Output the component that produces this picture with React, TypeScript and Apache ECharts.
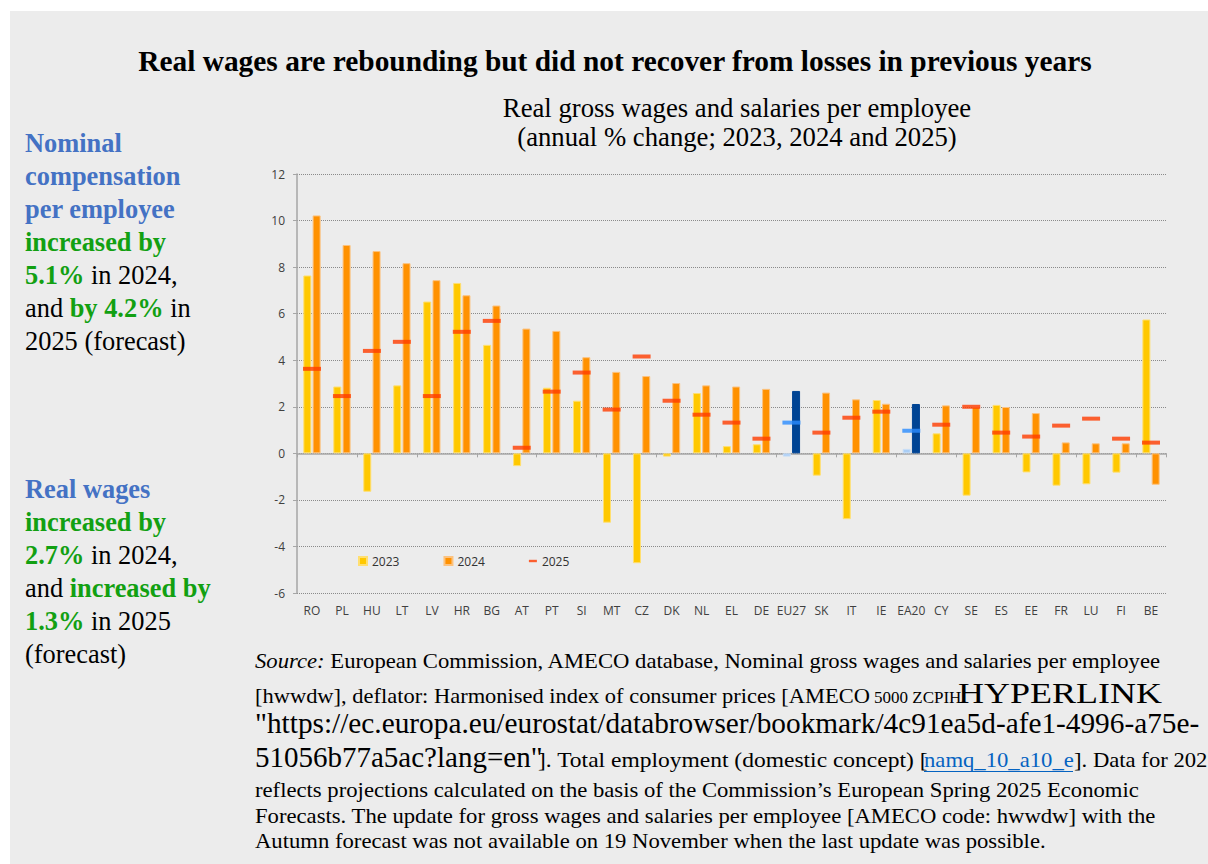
import React, { useEffect, useRef } from 'react';
import * as echarts from 'echarts';

const categories = ['RO', 'PL', 'HU', 'LT', 'LV', 'HR', 'BG', 'AT', 'PT', 'SI', 'MT', 'CZ', 'DK', 'NL', 'EL', 'DE', 'EU27', 'SK', 'IT', 'IE', 'EA20', 'CY', 'SE', 'ES', 'EE', 'FR', 'LU', 'FI', 'BE'];
const wages2023 = [7.64, 2.87, -1.65, 2.92, 6.52, 7.32, 4.66, -0.55, 2.82, 2.26, -2.98, -4.72, -0.14, 2.59, 0.31, 0.39, -0.14, -0.96, -2.83, 2.29, 0.19, 0.86, -1.82, 2.08, -0.82, -1.39, -1.33, -0.83, 5.75];
const wages2024 = [10.22, 8.95, 8.69, 8.17, 7.44, 6.79, 6.35, 5.36, 5.26, 4.13, 3.5, 3.32, 3.02, 2.92, 2.87, 2.77, 2.68, 2.61, 2.32, 2.13, 2.12, 2.06, 1.99, 1.99, 1.73, 0.47, 0.43, 0.43, -1.35];
const wages2025 = [3.63, 2.46, 4.4, 4.79, 2.46, 5.22, 5.69, 0.24, 2.65, 3.47, 1.88, 4.16, 2.26, 1.66, 1.32, 0.63, 1.32, 0.89, 1.53, 1.79, 0.97, 1.23, 2.0, 0.89, 0.72, 1.19, 1.49, 0.63, 0.46];
const aggregates = ['EU27', 'EA20'];
const seriesNames = ['2023', '2024', '2025'];
const yMin = -6;
const yMax = 12;
const yInterval = 2;

const titleText = 'Real wages are rebounding but did not recover from losses in previous years';
const subtitleLines = ['Real gross wages and salaries per employee', '(annual % change; 2023, 2024 and 2025)'];

const leftBlock1 = [
  '{b|Nominal}',
  '{b|compensation}',
  '{b|per employee}',
  '{g|increased by}',
  '{g|5.1%}{k| in 2024,}',
  '{k|and }{g|by 4.2%}{k| in}',
  '{k|2025 (forecast)}',
];
const leftBlock2 = [
  '{b|Real wages}',
  '{g|increased by}',
  '{g|2.7%}{k| in 2024,}',
  '{k|and }{g|increased by}',
  '{g|1.3%}{k| in 2025}',
  '{k|(forecast)}',
];

const C = {
  y2023: '#ffc800',
  y2024: '#ff9100',
  y2025: '#ff3c00',
  agg2023: '#a9cdf5',
  agg2024: '#004494',
  agg2025: '#2a8cff',
  blue: '#4472c4',
  green: '#12a012',
  link: '#0563c1',
};

const serif = '"Liberation Serif", "Times New Roman", serif';
const sans = '"Open Sans", "Noto Sans", sans-serif';

function App() {
  const ref = useRef<HTMLDivElement>(null);

  useEffect(() => {
    if (!ref.current) return;
    const chart = echarts.init(ref.current, undefined, { renderer: 'svg' });

    const isAgg = (i: number) => aggregates.includes(categories[i]);

    const d2023 = wages2023.map((v, i) => ({
      value: v,
      itemStyle: isAgg(i) ? { color: C.agg2023, borderColor: '#c8def7' } : undefined,
    }));
    const d2024 = wages2024.map((v, i) => ({
      value: v,
      itemStyle: isAgg(i) ? { color: C.agg2024, borderColor: C.agg2024 } : undefined,
    }));
    const d2025 = wages2025.map((v, i) => ({
      value: v,
      itemStyle: isAgg(i) ? { color: C.agg2025 } : undefined,
    }));

    const richLeft = {
      b: { font: `bold 26.4px ${serif}`, fill: C.blue },
      g: { font: `bold 26.4px ${serif}`, fill: C.green },
      k: { font: `26.4px ${serif}`, fill: '#000' },
    };

    const graphics: any[] = [
      { type: 'rect', z: -100, shape: { x: 10, y: 11, width: 1198, height: 853 }, style: { fill: '#ececec' } },
      {
        type: 'text', x: 615, y: 61,
        style: { text: titleText, font: `bold 29.4px ${serif}`, fill: '#000', align: 'center', verticalAlign: 'middle' },
      },
      {
        type: 'text', x: 737, y: 108,
        style: { text: subtitleLines[0], font: `26.7px ${serif}`, fill: '#000', align: 'center', verticalAlign: 'middle' },
      },
      {
        type: 'text', x: 737, y: 137,
        style: { text: subtitleLines[1], font: `26.7px ${serif}`, fill: '#000', align: 'center', verticalAlign: 'middle' },
      },
    ];
    leftBlock1.forEach((t, i) => {
      graphics.push({ type: 'text', x: 25, y: 143 + i * 33, style: { text: t, rich: richLeft, align: 'left', verticalAlign: 'middle' } });
    });
    leftBlock2.forEach((t, i) => {
      graphics.push({ type: 'text', x: 25, y: 489 + i * 33, style: { text: t, rich: richLeft, align: 'left', verticalAlign: 'middle' } });
    });

    const small = `21px ${serif}`;
    const big = `29.3px ${serif}`;
    const sx = 1.08;
    const src = (x: number, y: number, text: string, font: string, scaleX = 1, fill = '#000') => ({
      type: 'text', x, y, scaleX, style: { text, font, fill, align: 'left', verticalAlign: 'middle' },
    });
    graphics.push(
      {
        type: 'text', x: 255, y: 661, scaleX: sx,
        style: {
          text: '{i|Source:}{n| European Commission, AMECO database, Nominal gross wages and salaries per employee}',
          rich: { i: { font: `italic 21px ${serif}`, fill: '#000' }, n: { font: small, fill: '#000' } },
          verticalAlign: 'middle',
        },
      },
      src(255, 696, '[hwwdw], deflator: Harmonised index of consumer prices [AMECO', small, 1.07),
      src(874, 697, '5000 ZCPIH', `17px ${serif}`),
      src(958, 693, 'HYPERLINK', `30px ${serif}`, 1.2),
      src(255, 723, '"https://ec.europa.eu/eurostat/databrowser/bookmark/4c91ea5d-afe1-4996-a75e-', big),
      src(255, 757, '51056b77a5ac?lang=en"', `29px ${serif}`),
      src(538, 760, ']. Total employment (domestic concept) [', small, 1.12),
      src(924, 760, 'namq_10_a10_e', small, sx, C.link),
      { type: 'line', shape: { x1: 924, y1: 771.5, x2: 1073, y2: 771.5 }, style: { stroke: C.link, lineWidth: 1 } },
      src(1074, 760, ']. Data for 202', small, sx),
      src(255, 790, 'reflects projections calculated on the basis of the Commission\u2019s European Spring 2025 Economic', small, sx),
      src(255, 816, 'Forecasts. The update for gross wages and salaries per employee [AMECO code: hwwdw] with the', small, sx),
      src(255, 841, 'Autumn forecast was not available on 19 November when the last update was possible.', small, sx),
    );

    chart.setOption({
      animation: false,
      backgroundColor: 'transparent',
      graphic: graphics,
      grid: { left: 297, right: 42, top: 174, bottom: 271, containLabel: false },
      legend: {
        left: 353,
        top: 550,
        itemWidth: 8,
        itemHeight: 8,
        itemGap: 44,
        textStyle: { fontSize: 12, color: '#333', fontFamily: sans },
        data: [
          { name: seriesNames[0], icon: 'rect' },
          { name: seriesNames[1], icon: 'rect' },
          { name: seriesNames[2], icon: 'path://M0,0L10,0L10,3L0,3Z' },
        ],
      },
      xAxis: [
        {
          type: 'category',
          data: categories,
          position: 'bottom',
          axisLine: { show: false, onZero: false },
          axisTick: { show: false },
          axisLabel: { margin: 11, fontSize: 12, color: '#404040', fontFamily: sans, interval: 0 },
        },
        {
          type: 'category',
          data: categories,
          position: 'bottom',
          axisLine: { show: true, onZero: true, lineStyle: { color: '#a6a6a6', width: 1.5 } },
          axisTick: { show: true, length: 4, lineStyle: { color: '#a6a6a6' } },
          axisLabel: { show: false },
          splitLine: { show: false },
        },
      ],
      yAxis: {
        type: 'value',
        min: yMin,
        max: yMax,
        interval: yInterval,
        axisLine: { show: true, lineStyle: { color: '#a6a6a6', width: 1.5 } },
        axisTick: { show: true, length: 4, lineStyle: { color: '#a6a6a6' } },
        splitLine: { lineStyle: { type: 'dotted', color: '#8a8a8a', width: 1 } },
        axisLabel: { margin: 12, fontSize: 12, color: '#404040', fontFamily: sans },
      },
      series: [
        {
          name: seriesNames[0],
          type: 'bar',
          xAxisIndex: 0,
          data: d2023,
          barWidth: 8,
          barGap: '16%',
          itemStyle: { color: C.y2023, borderColor: '#ffdf70', borderWidth: 1 },
        },
        {
          name: seriesNames[1],
          type: 'bar',
          xAxisIndex: 0,
          data: d2024,
          barWidth: 8,
          barGap: '16%',
          itemStyle: { color: C.y2024, borderColor: '#fcc27e', borderWidth: 1 },
        },
        {
          name: seriesNames[2],
          type: 'scatter',
          xAxisIndex: 0,
          data: d2025,
          symbol: 'rect',
          symbolSize: [18, 4],
          z: 5,
          itemStyle: { color: C.y2025 },
        },
      ],
    });

    return () => chart.dispose();
  }, []);

  return <div ref={ref} style={{ position: 'absolute', left: 0, top: 0, width: 1208, height: 864, background: '#fff' }} />;
}

export default App;
